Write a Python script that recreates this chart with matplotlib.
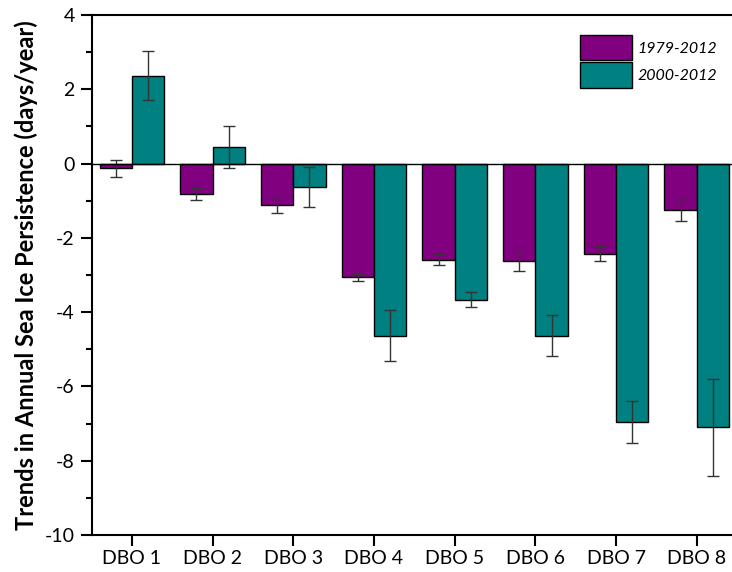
import matplotlib.pyplot as plt
from matplotlib.ticker import MultipleLocator
import numpy as np

plt.rcParams['font.family'] = ['Lato', 'DejaVu Sans']
plt.rcParams['axes.unicode_minus'] = False

stations = ['DBO 1', 'DBO 2', 'DBO 3', 'DBO 4', 'DBO 5', 'DBO 6', 'DBO 7', 'DBO 8']
trend_1979 = [-0.13, -0.82, -1.12, -3.06, -2.59, -2.62, -2.43, -1.25]
err_1979 = [0.22, 0.17, 0.21, 0.09, 0.15, 0.26, 0.20, 0.30]
trend_2000 = [2.37, 0.45, -0.63, -4.63, -3.66, -4.63, -6.96, -7.10]
err_2000 = [0.67, 0.57, 0.55, 0.68, 0.20, 0.55, 0.57, 1.30]

purple = '#800080'
teal = '#008080'

fig = plt.figure(figsize=(7.32, 5.72), dpi=100)
ax = fig.add_axes([0.125, 0.0647, 0.882, 0.909])

x = np.arange(1, len(stations) + 1)
w = 0.4
err_style = dict(ecolor='#333333', elinewidth=1, capsize=4, capthick=1)
ax.bar(x - w / 2, trend_1979, w, color=purple, edgecolor='black', linewidth=1,
       yerr=err_1979, error_kw=err_style, label='1979-2012')
ax.bar(x + w / 2, trend_2000, w, color=teal, edgecolor='black', linewidth=1,
       yerr=err_2000, error_kw=err_style, label='2000-2012')
ax.axhline(0, color='black', linewidth=1)

ax.set_xlim(0.5, 8.5)
ax.set_ylim(-10, 4)
ax.set_xticks(x)
ax.set_xticklabels(stations)
ax.yaxis.set_major_locator(MultipleLocator(2))
ax.yaxis.set_minor_locator(MultipleLocator(1))
ax.tick_params(axis='both', which='major', length=8, width=1.5, labelsize=14, pad=3)
ax.tick_params(axis='y', which='minor', length=4.5, width=1.5)
ax.tick_params(axis='y', which='major', pad=4)
for s in ['left', 'bottom', 'top']:
    ax.spines[s].set_linewidth(1.5)
ax.spines['right'].set_visible(False)

ax.set_ylabel('Trends in Annual Sea Ice Persistence (days/year)', fontsize=17,
              fontweight='bold', labelpad=5)

leg = ax.legend(loc='upper left', bbox_to_anchor=(0.792, 0.939), bbox_transform=fig.transFigure,
                frameon=False, handlelength=3.25, handleheight=2.05, labelspacing=0.15,
                handletextpad=0.35, borderpad=0, borderaxespad=0,
                prop={'style': 'italic', 'size': 11.5})

fig.savefig('out.png', dpi=100)
